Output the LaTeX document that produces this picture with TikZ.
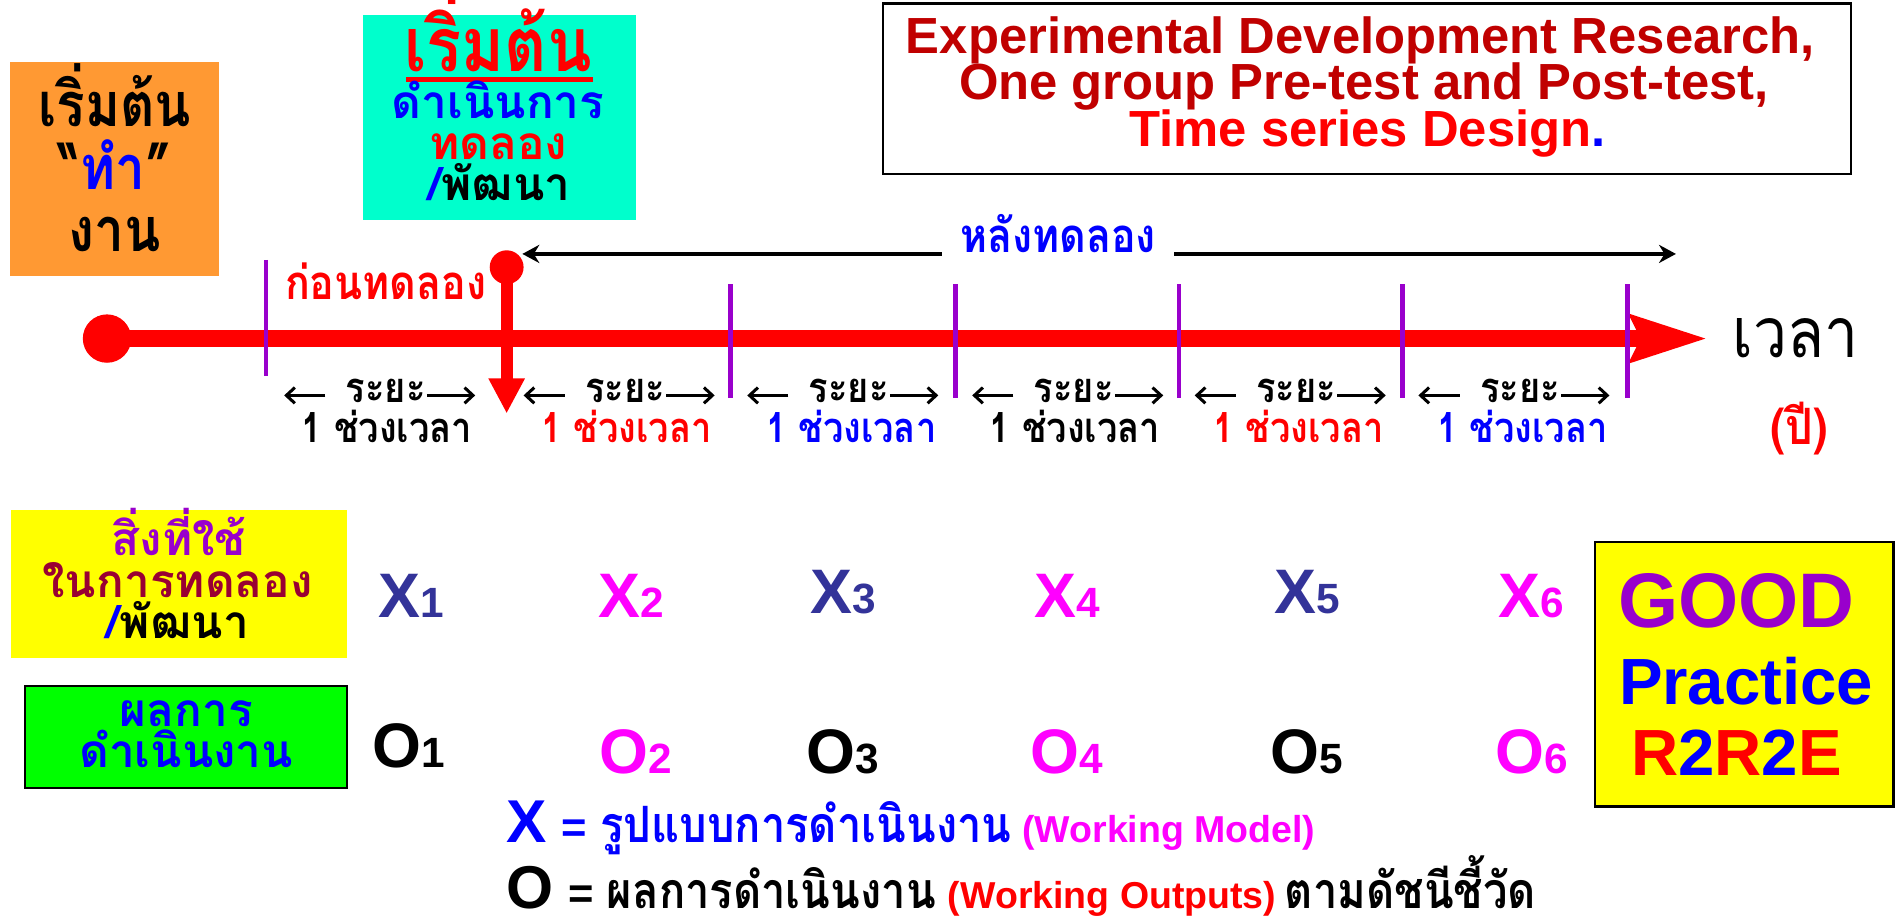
\documentclass[tikz,border=0pt]{standalone}
\usepackage{fontspec}
\setmainfont{Liberation Sans}
\newfontfamily\thaif[Script=Thai]{Loma}
\newfontfamily\thaic[Script=Thai,Scale=1.15,FakeStretch=0.87]{Loma}
\usetikzlibrary{arrows.meta}
\definecolor{orangeC}{HTML}{FF9933}
\definecolor{cyanC}{HTML}{00FFCC}
\definecolor{yellowC}{HTML}{FFFF00}
\definecolor{greenC}{HTML}{00FF00}
\definecolor{purpleC}{HTML}{9900CC}
\definecolor{darkredC}{HTML}{C00000}
\definecolor{wineC}{HTML}{990033}
\definecolor{navyC}{HTML}{333399}
\definecolor{magC}{HTML}{FF00FF}
\definecolor{blueC}{HTML}{0000FF}
\definecolor{redC}{HTML}{FF0000}
\newcommand\fz[1]{\fontsize{#1}{#1}\selectfont}
\begin{document}
\begin{tikzpicture}[x=1pt,y=-1pt,
  every node/.style={inner sep=0pt,outer sep=0pt},
  boxn/.style={anchor=north west,inner sep=0pt},
  thx/.style={font=\thaif\bfseries\fz{#1},anchor=base},
  thc/.style={font=\thaic\bfseries\fz{#1},anchor=base},
  latx/.style={font=\bfseries\fz{#1},anchor=base},
  tickl/.style={draw=purpleC,line width=4pt},
  spanarr/.style={line width=2.5pt,-{Straight Barb[length=7pt,width=13pt]}},
]
\useasboundingbox (0,0) rectangle (1568,763);

% boxes
\node[boxn,fill=orangeC,minimum width=173pt,minimum height=177pt] (obox) at (8,51) {};
\node[boxn,fill=cyanC,minimum width=226pt,minimum height=170pt] (cbox) at (300,12) {};
\node[boxn,draw=black,line width=2pt,fill=white,minimum width=801pt,minimum height=141pt] (tbox) at (730,3) {};
\node[boxn,fill=yellowC,minimum width=278pt,minimum height=122pt] (ybox) at (9,422) {};
\node[boxn,draw=black,line width=1.5pt,fill=greenC,minimum width=266pt,minimum height=85pt] (gbox) at (21,567) {};
\node[boxn,draw=black,line width=2pt,fill=yellowC,minimum width=247pt,minimum height=219pt] (pbox) at (1319,448) {};

% orange box text
\node[thc=44] (o1) at (95,105) {เริ่มต้น};
\node[thc=44] (o2) at (95,157) {“{\color{blueC}ทำ}”};
\node[thc=44] (o3) at (95,208) {งาน};

% cyan box text
\node[thc=54,text=redC] (c1) at (412,59) {เริ่มต้น};
\coordinate (ul1) at (336,66);
\coordinate (ul2) at (490,66);
\draw[redC,line width=4pt] (ul1) -- (ul2);
\node[thx=38,text=blueC] (c2) at (412,98) {ดำเนินการ};
\node[thx=38,text=redC] (c3) at (412,132) {ทดลอง};
\node[thx=38] (c4) at (413,166) {{\color{blueC}/}พัฒนา};

% title
\node[latx=42,text=darkredC] (t1) at (1125,44) {Experimental Development Research,};
\node[latx=42,text=darkredC] (t2) at (1128,82) {One group Pre-test and Post-test,};
\node[latx=42,text=redC] (t3) at (1131,121) {Time series Design{\color{blueC}.}};

% timeline
\node[circle,fill=redC,minimum size=40pt] (tstart) at (88.5,280) {};
\coordinate (tend) at (1412,280);
\draw[redC,line width=14pt,-{Stealth[length=63pt,width=38pt,inset=8pt]}] (tstart.center) -- (tend);

\coordinate (k0t) at (220,215); \coordinate (k0b) at (220,311);
\draw[tickl] (k0t) -- (k0b);
\foreach \i/\x in {1/604,2/790,3/975,4/1160,5/1346}{
  \coordinate (k\i t) at (\x,235);
  \coordinate (k\i b) at (\x,329);
  \draw[tickl] (k\i t) -- (k\i b);
}

% start marker
\node[circle,fill=redC,minimum size=28pt] (mk) at (419,221) {};
\coordinate (mkend) at (419,342);
\draw[redC,line width=10pt,-{Triangle[length=29pt,width=28pt]}] (mk.center) -- (mkend);

% after arrow
\coordinate (bl) at (432,210);
\coordinate (br) at (1386,210);
\draw[line width=4pt,{Stealth[length=14pt,width=15pt]}-{Stealth[length=14pt,width=15pt]}] (bl) -- (br);
\node[thc=34,text=blueC,fill=white,inner xsep=15pt,inner ysep=2pt,text depth=8pt] (after) at (875,209) {หลังทดลอง};

\node[thc=34,text=redC] (before) at (319,248) {ก่อนทดลอง};

% interval labels
\foreach \i/\xa/\xb/\c in {1/319/320/black,2/517/518/redC,3/702/704/blueC,4/888/889/black,5/1072/1074/redC,6/1257/1259/blueC}{
  \node[thc=30] (r\i) at (\xa,333) {ระยะ};
  \coordinate (la\i) at (\xa-50,327);
  \coordinate (lt\i) at (\xa-84,327);
  \coordinate (ra\i) at (\xa+34,327);
  \coordinate (rt\i) at (\xa+74,327);
  \draw[spanarr] (la\i) -- (lt\i);
  \draw[spanarr] (ra\i) -- (rt\i);
  \node[thc=30,text=\c] (s\i) at (\xb,366) {1 ช่วงเวลา};
}

\node[font=\thaic\fz{50},anchor=base] (time) at (1485,296) {เวลา};
\node[thc=36,text=redC] (year) at (1488,368) {(ปี)};

% yellow box text
\node[thx=38,text=purpleC] (y1) at (148,459) {สิ่งที่ใช้};
\node[thx=38,text=wineC] (y2) at (147,494) {ในการทดลอง};
\node[thx=38] (y3) at (147,528) {{\color{blueC}/}พัฒนา};

% green box text
\node[thx=38,text=blueC] (g1) at (154,601) {ผลการ};
\node[thx=38,text=blueC] (g2) at (154,635) {ดำเนินงาน};

% X and O
\node[latx=52,text=navyC] (x1) at (340,511) {X{\fz{35}1}};
\node[latx=52,text=magC] (x2) at (522,511) {X{\fz{35}2}};
\node[latx=52,text=navyC] (x3) at (697,507) {X{\fz{35}3}};
\node[latx=52,text=magC] (x4) at (883,511) {X{\fz{35}4}};
\node[latx=52,text=navyC] (x5) at (1081,507) {X{\fz{35}5}};
\node[latx=52,text=magC] (x6) at (1266,511) {X{\fz{35}6}};
\node[latx=52] (ob1) at (338,635) {O{\fz{35}1}};
\node[latx=52,text=magC] (ob2) at (526,640) {O{\fz{35}2}};
\node[latx=52] (ob3) at (697,640) {O{\fz{35}3}};
\node[latx=52,text=magC] (ob4) at (882,640) {O{\fz{35}4}};
\node[latx=52] (ob5) at (1081,640) {O{\fz{35}5}};
\node[latx=52,text=magC] (ob6) at (1267,640) {O{\fz{35}6}};

% good practice
\node[latx=64,text=purpleC] (good) at (1436,519) {GOOD};
\node[latx=54,text=blueC] (prac) at (1444,583) {Practice};
\node[latx=54] (rr) at (1436,641) {{\color{redC}R}{\color{blueC}2}{\color{redC}R}{\color{blueC}2}{\color{redC}E}};

% legend
\node[anchor=base west,font=\bfseries] (legx) at (419,697) {{\fz{50}\color{blueC}X}\hspace{12pt}{\fz{36}\color{blueC}=}\hspace{11pt}{\thaic\fz{36}\color{blueC}รูปแบบการดำเนินงาน}\hspace{9pt}{\fz{31}\color{magC}(Working Model)}};
\node[anchor=base west,font=\bfseries] (lego) at (419,751) {{\fz{50}O}\hspace{12pt}{\fz{36}=}\hspace{11pt}{\thaic\fz{36}ผลการดำเนินงาน}\hspace{10pt}{\fz{31}\color{redC}(Working Outputs)}\hspace{7pt}{\thaic\fz{36}ตามดัชนีชี้วัด}};
\end{tikzpicture}
\end{document}
